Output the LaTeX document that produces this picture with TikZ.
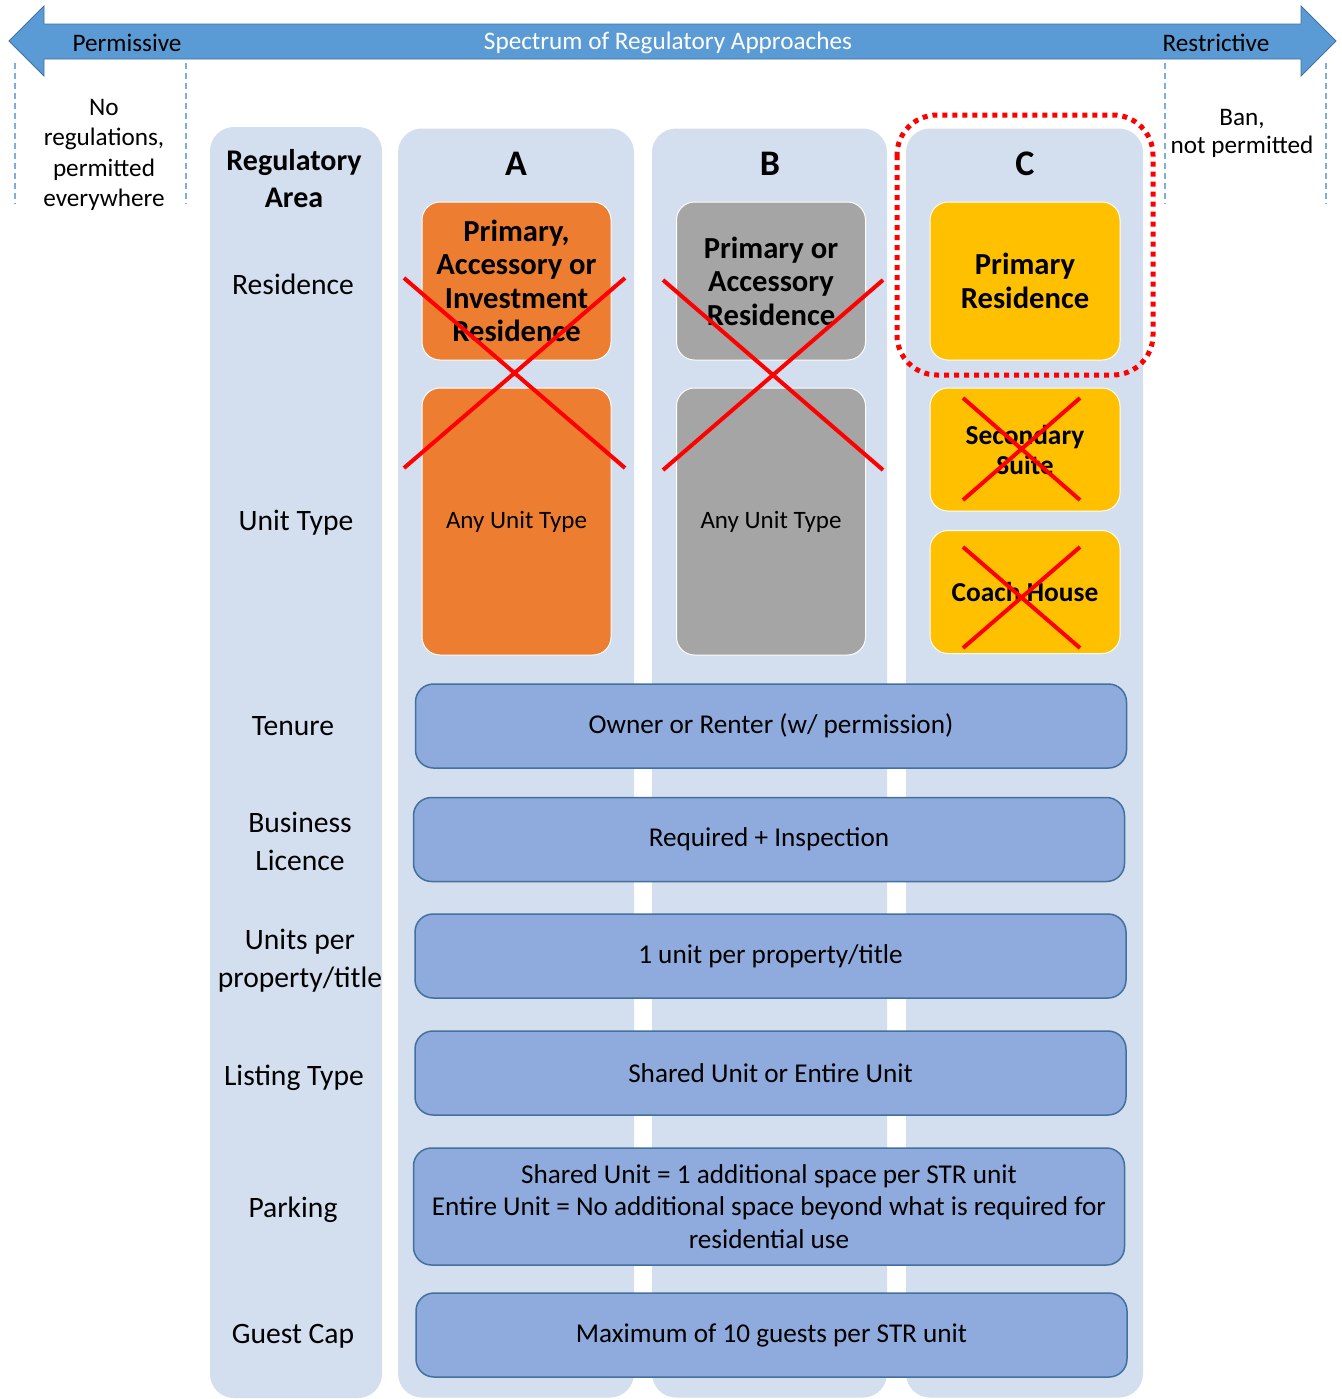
\documentclass[tikz,border=0pt]{standalone}
\usepackage{fontspec}
\setmainfont{Carlito}

\definecolor{colfill}{HTML}{D3DEEF}
\definecolor{arrowblue}{HTML}{5B9BD5}
\definecolor{arrowline}{HTML}{41719C}
\definecolor{rowfill}{HTML}{8FAADC}
\definecolor{rowline}{HTML}{41719C}
\definecolor{orangebox}{HTML}{ED7D31}
\definecolor{greybox}{HTML}{A5A5A5}
\definecolor{yellowbox}{HTML}{FFC000}

\begin{document}
\begin{tikzpicture}[x=0.5pt, y=-0.5pt,
    colbox/.style={fill=colfill, rounded corners=12pt, inner sep=0pt},
    optbox/.style={draw=white, line width=0.5pt, rounded corners=9pt, align=center, inner sep=1pt,
        minimum width=94.5pt, font={\fontsize{15.3}{16.75}\selectfont\bfseries}},
    rowbox/.style={fill=rowfill, draw=rowline, line width=0.75pt, rounded corners=9pt,
        minimum width=355.5pt, minimum height=42pt, align=center,
        font={\fontsize{13.6}{16.25}\selectfont}},
    rowlabel/.style={font={\fontsize{14.8}{19}\selectfont}, align=center, inner sep=1pt},
    header/.style={font={\fontsize{18}{20}\selectfont\bfseries}},
    sidenote/.style={font={\fontsize{12.6}{15.3}\selectfont}, align=center},
    spanline/.style={arrowblue!80, line width=1.3pt, dash pattern=on 3pt off 2pt},
    nope/.style={red, line width=2pt}]
        \useasboundingbox (0,0) rectangle (1341,1399);

        % spectrum arrow
        \draw[fill=arrowblue, draw=arrowline, line width=0.4pt]
            (9,41) -- (44,6) -- (44,24) -- (1301,24) -- (1301,6) -- (1336,41)
            -- (1301,76) -- (1301,59) -- (44,59) -- (44,76) -- cycle;
        \node[font={\fontsize{12.6}{14}\selectfont}] (permissive) at (127,43) {Permissive};
        \node[font={\fontsize{12.6}{14}\selectfont}, white] (spectrum) at (668,43) {Spectrum of Regulatory Approaches};
        \node[font={\fontsize{12.6}{14}\selectfont}] (restrictive) at (1216,43) {Restrictive};

        % ends of the spectrum
        \draw[spanline] (15,63) -- (15,204);
        \draw[spanline] (186,63) -- (186,204);
        \draw[spanline] (1165,63) -- (1165,204);
        \draw[spanline] (1326,63) -- (1326,204);
        \node[sidenote] (noregs) at (104,155) {No\\regulations,\\permitted\\everywhere};
        \node[sidenote, font={\fontsize{12.6}{14}\selectfont}] (ban) at (1242,133) {Ban,\\not permitted};

        % columns
        \node[colbox, minimum width=86pt, minimum height=635.5pt] (areacol) at (296,762.5) {};
        \node[colbox, minimum width=118pt, minimum height=634.5pt] (colA) at (516,763) {};
        \node[colbox, minimum width=117.5pt, minimum height=634.5pt] (colB) at (769.5,763) {};
        \node[colbox, minimum width=118.5pt, minimum height=634.5pt] (colC) at (1024.5,763) {};

        \node[header] (hdA) at (516,164) {A};
        \node[header] (hdB) at (770,164) {B};
        \node[header] (hdC) at (1025,164) {C};

        % row labels
        \node[rowlabel, font={\fontsize{15}{18.5}\selectfont\bfseries}] (area) at (294,179) {Regulatory\\Area};
        \node[rowlabel] (residence) at (293,284) {Residence};
        \node[rowlabel] (unittype) at (296,523) {Unit Type};
        \node[rowlabel] (tenure) at (293,726) {Tenure};
        \node[rowlabel] (licence) at (300,841) {Business\\Licence};
        \node[rowlabel] (units) at (300,961) {Units per\\property/title};
        \node[rowlabel] (listing) at (294,1078) {Listing Type};
        \node[rowlabel] (parking) at (293,1210) {Parking};
        \node[rowlabel] (guests) at (293,1336) {Guest Cap};

        % residence and unit type options
        \node[optbox, fill=orangebox, minimum height=79pt] (resA) at (516.5,281) {Primary,\\Accessory or\\Investment\\Residence};
        \node[optbox, fill=orangebox, minimum height=133.5pt, font={\fontsize{12.5}{14}\selectfont}] (unitA) at (516.5,521.5) {Any Unit Type};
        \node[optbox, fill=greybox, minimum height=79pt] (resB) at (771,281) {Primary or\\Accessory\\Residence};
        \node[optbox, fill=greybox, minimum height=133.5pt, font={\fontsize{12.5}{14}\selectfont}] (unitB) at (771,521.5) {Any Unit Type};
        \node[optbox, fill=yellowbox, minimum width=95pt, minimum height=79pt] (resC) at (1025,281) {Primary\\Residence};
        \node[optbox, fill=yellowbox, minimum width=95pt, minimum height=61.5pt, font={\fontsize{13.7}{15}\selectfont\bfseries}] (suiteC) at (1025,449.5) {Secondary\\Suite};
        \node[optbox, fill=yellowbox, minimum width=95pt, minimum height=61.5pt, font={\fontsize{13.7}{15}\selectfont\bfseries}] (coachC) at (1025,592) {Coach House};

        % crossed out
        \foreach \xa/\ya/\xb/\yb in {404/278/625/468, 663/280/883/470, 963/398/1080/500, 963/547/1080/648} {
            \draw[nope] (\xa,\ya) -- (\xb,\yb) (\xa,\yb) -- (\xb,\ya);
        }

        % chosen option
        \draw[red, line width=2.5pt, dash pattern=on 2.5pt off 2.5pt, rounded corners=20pt]
            (897,115) rectangle (1153,375);

        % rules shared by all areas
        \node[rowbox] (tenurerow) at (771,726) {Owner or Renter (w/ permission)};
        \node[rowbox] (licencerow) at (769,839.5) {Required + Inspection};
        \node[rowbox] (unitsrow) at (770.5,956) {1 unit per property/title};
        \node[rowbox] (listingrow) at (770.5,1073) {Shared Unit or Entire Unit};
        \node[rowbox, minimum height=58.5pt] (parkingrow) at (769,1206.5) {Shared Unit = 1 additional space per STR unit\\Entire Unit = No additional space beyond what is required for\\residential use};
        \node[rowbox] (guestrow) at (771.5,1335) {Maximum of 10 guests per STR unit};
    \end{tikzpicture}
\end{document}
